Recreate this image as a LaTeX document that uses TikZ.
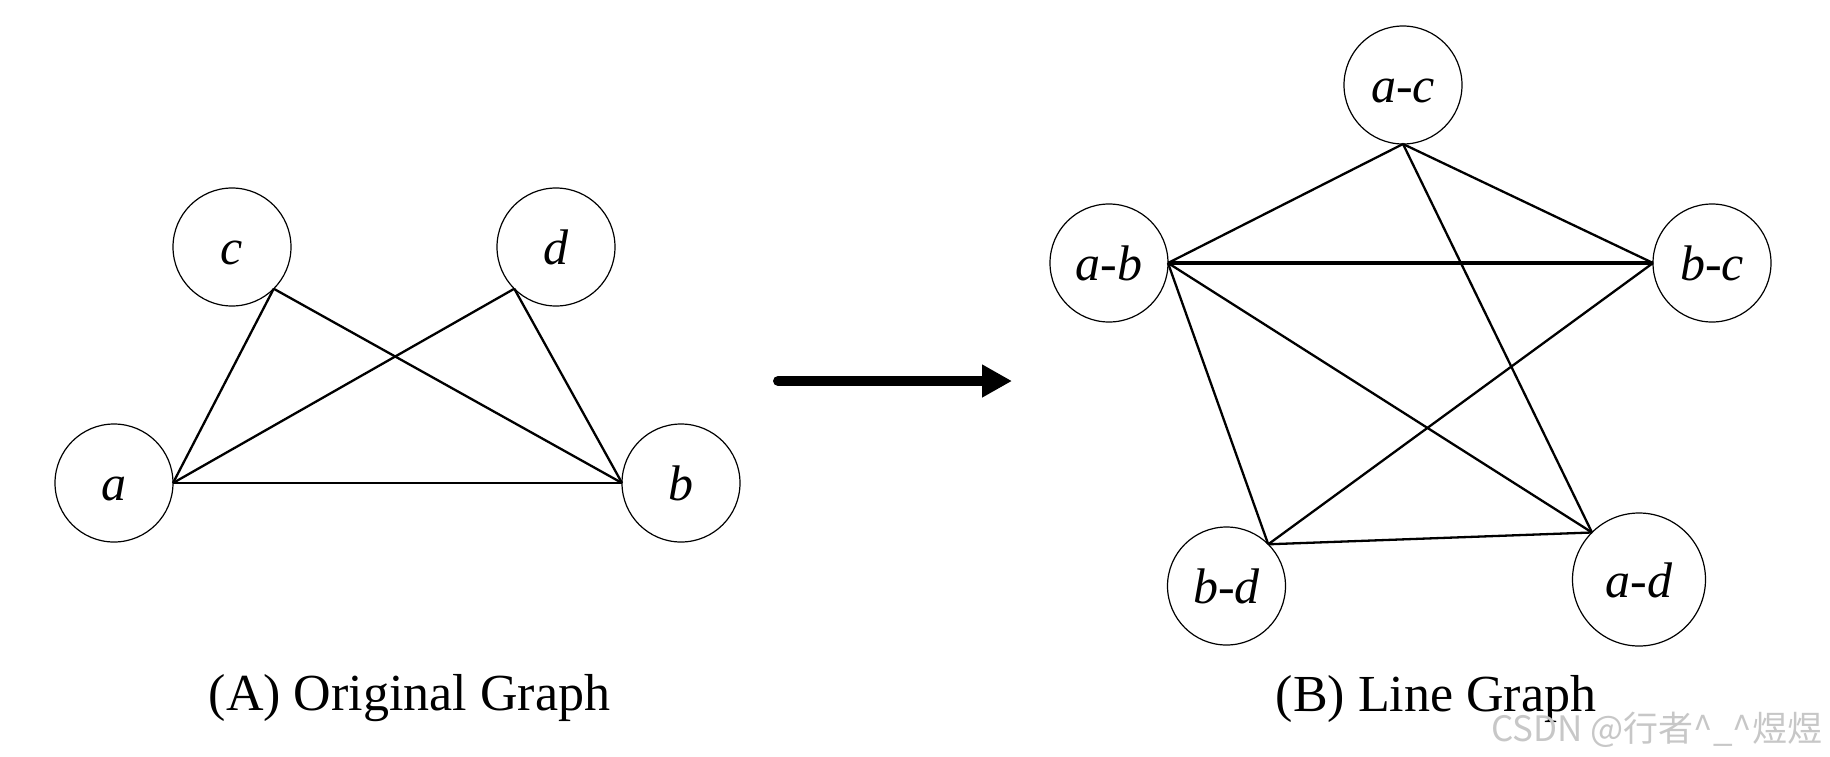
\documentclass[tikz,border=0pt]{standalone}
\usepackage{fontspec}
\setmainfont{Liberation Serif}
\newfontfamily\cjkfont{Noto Sans CJK SC}
\usetikzlibrary{arrows.meta}
\begin{document}
\begin{tikzpicture}[x=1pt,y=-1pt,
  vert/.style={circle,draw,line width=1.2pt,minimum size=118pt,inner sep=0pt,outer sep=0pt,
    text height=35pt,text depth=0pt,font=\fontsize{50}{60}\selectfont\itshape},
  bigvert/.style={vert,minimum size=133pt},
  edge/.style={line width=2.3pt},
  thickedge/.style={line width=4.3pt},
  caption/.style={anchor=base,inner sep=0pt,font=\fontsize{52}{62}\selectfont},
  bigarrow/.style={line width=10pt,line cap=round,-{Triangle[length=30pt,width=31pt]}},
  mark text/.style={anchor=base west,inner sep=0pt,text=black!22,font=\cjkfont\fontsize{35}{40}\selectfont}]
\useasboundingbox (0,0) rectangle (1830,756);
% (A) original graph
\node[vert] (c) at (232,247) {c};
\node[vert] (d) at (556,247) {d};
\node[vert] (a) at (114,483) {a};
\node[vert] (b) at (681,483) {b};
\draw[edge] (c.south east) -- (a.east);
\draw[edge] (c.south east) -- (b.west);
\draw[edge] (d.south west) -- (a.east);
\draw[edge] (d.south west) -- (b.west);
\draw[edge] (a.east) -- (b.west);
\node[caption] (capA) at (409.5,710) {(A) Original Graph};
% arrow
\coordinate (arrS) at (778,381);
\coordinate (arrE) at (1012,381);
\draw[bigarrow] (arrS) -- (arrE);
% (B) line graph
\node[vert] (ac) at (1403,85) {a-c};
\node[vert] (ab) at (1109,263) {a-b};
\node[vert] (bc) at (1712,263) {b-c};
\node[vert] (bd) at (1226.5,586) {b-d};
\node[bigvert] (ad) at (1639,579.5) {a-d};
\draw[edge] (ac.south) -- (ab.east);
\draw[edge] (ac.south) -- (bc.west);
\draw[edge] (ac.south) -- (ad.north west);
\draw[thickedge] (ab.east) -- (bc.west);
\draw[edge] (ab.east) -- (bd.north east);
\draw[edge] (ab.east) -- (ad.north west);
\draw[edge] (bc.west) -- (bd.north east);
\draw[edge] (bd.north east) -- (ad.north west);
\node[caption] (capB) at (1436,711.5) {(B) Line Graph};
\node[mark text] (wm) at (1491,741) {CSDN @行者\^{}\_\^{}煜煜};
\end{tikzpicture}
\end{document}
